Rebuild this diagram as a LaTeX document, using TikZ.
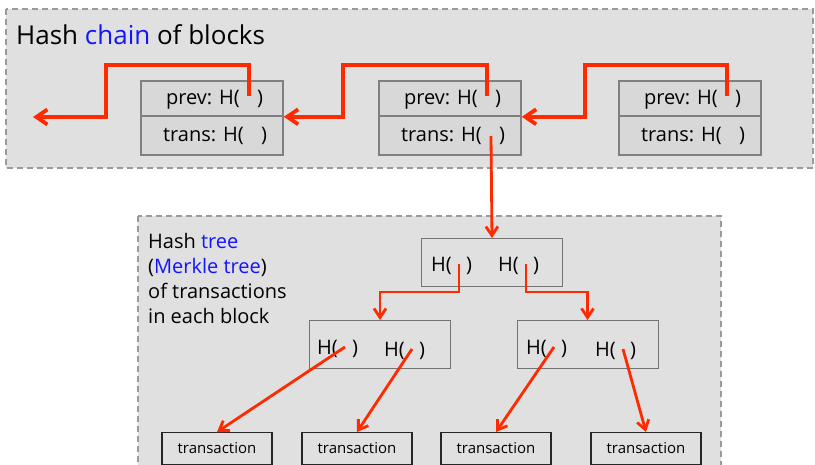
\documentclass[tikz,border=0pt]{standalone}
\usepackage{fontspec}
\setmainfont{Open Sans}
\usetikzlibrary{arrows.meta}
\definecolor{bggray}{HTML}{E0E0E0}
\definecolor{rowgray}{HTML}{D8D8D8}
\definecolor{edgegray}{HTML}{808080}
\definecolor{dashgray}{HTML}{9A9A9A}
\definecolor{ptrred}{HTML}{FF2A00}
\definecolor{hashblue}{HTML}{1414FF}
\tikzset{
  panel/.style={draw=dashgray, fill=bggray, line width=1.5pt, dash pattern=on 6pt off 4pt},
  rowbox/.style={draw=edgegray, fill=rowgray, line width=1.8pt, inner sep=0pt, anchor=north west},
  hbox/.style={draw=edgegray!90!black, line width=0.9pt, inner sep=0pt, minimum width=141pt, minimum height=48pt, anchor=north},
  txbox/.style={draw=black!85, line width=1.1pt, inner sep=0pt, minimum width=110pt, minimum height=32pt, anchor=north, font=\fontsize{15}{17}\selectfont},
  btxt/.style={inner sep=0pt, font=\fontsize{20}{22}\selectfont},
  ttxt/.style={inner sep=0pt, font=\fontsize{20}{22}\selectfont},
  chainarrow/.style={draw=ptrred, line width=3.8pt, -{Straight Barb[length=11pt,width=15pt]}},
  treearrow/.style={draw=ptrred, line width=2.8pt, -{Straight Barb[length=9pt,width=12pt]}},
}
\begin{document}
\begin{tikzpicture}[x=1pt,y=-1pt]
\useasboundingbox (0,0) rectangle (815,465);
% panels
\draw[panel] (6,9) rectangle (813,168);
\draw[panel] (138,216) rectangle (721,480);
\node[anchor=base west, inner sep=0pt, font=\fontsize{26}{30}\selectfont] (title) at (16,45) {Hash \textcolor{hashblue}{chain} of blocks};
% blocks
\foreach \i/\dx in {1/0,2/238,3/478}{
  \node[rowbox, minimum width=142pt, minimum height=35pt] (b\i p) at (140+\dx,80) {};
  \node[rowbox, minimum width=142pt, minimum height=39pt] (b\i t) at (140+\dx,115) {};
  \node[btxt, anchor=base east] (b\i pl) at (240+\dx,105) {prev: H(};
  \node[btxt, anchor=base west] (b\i pr) at (257+\dx,105) {)};
  \node[btxt, anchor=base east] (b\i tl) at (244+\dx,142) {trans: H(};
  \node[btxt, anchor=base west] (b\i tr) at (261+\dx,142) {)};
  \coordinate (p\i) at (249+\dx,96);
  \coordinate (t\i) at (253+\dx,136);
}
\coordinate (tail) at (33,117);
\coordinate (k1) at (106,65);
\coordinate (k2) at (343,65);
\coordinate (k3) at (585,65);
\draw[chainarrow] (p1) |- (k1) |- (tail);
\draw[chainarrow] (p2) |- (k2) |- (b1p.south east);
\draw[chainarrow] (p3) |- (k3) |- (b2p.south east);
% tree label
\node[anchor=north west, inner sep=0pt, align=left, font=\fontsize{20}{25}\selectfont] (lbl) at (148,233)
  {Hash \textcolor{hashblue}{tree}\\(\textcolor{hashblue}{Merkle tree})\\of transactions\\in each block};
% tree nodes
\node[hbox] (r) at (492,238) {};
\node[hbox] (c1) at (380,320) {};
\node[hbox] (c2) at (587.5,320) {};
\coordinate (rp1) at (459,264);
\coordinate (rp2) at (526,264);
\coordinate (c1a) at (345,347);
\coordinate (c1b) at (412,349);
\coordinate (c2a) at (554,347);
\coordinate (c2b) at (623,349);
\foreach \p in {rp1,rp2,c1a,c1b,c2a,c2b}{
  \node[ttxt, anchor=base east] (\p l) at ([xshift=-7pt,yshift=-8pt]\p) {H(};
  \node[ttxt, anchor=base west] (\p r) at ([xshift=7pt,yshift=-8pt]\p) {)};
}
\coordinate (j) at (0,292);
\draw[treearrow] (t2) -- (r.north);
\draw[treearrow] (rp1) -- (rp1 |- j) -| (c1.north);
\draw[treearrow] (rp2) -- (rp2 |- j) -| (c2.north);
% transactions
\node[txbox] (x1) at (217,432) {\raisebox{-3pt}{transaction}};
\node[txbox] (x2) at (357,432) {\raisebox{-3pt}{transaction}};
\node[txbox] (x3) at (496,432) {\raisebox{-3pt}{transaction}};
\node[txbox] (x4) at (646,432) {\raisebox{-3pt}{transaction}};
\draw[treearrow] (c1a) -- (x1.north);
\draw[treearrow] (c1b) -- (x2.north);
\draw[treearrow] (c2a) -- (x3.north);
\draw[treearrow] (c2b) -- (x4.north);
\end{tikzpicture}
\end{document}
